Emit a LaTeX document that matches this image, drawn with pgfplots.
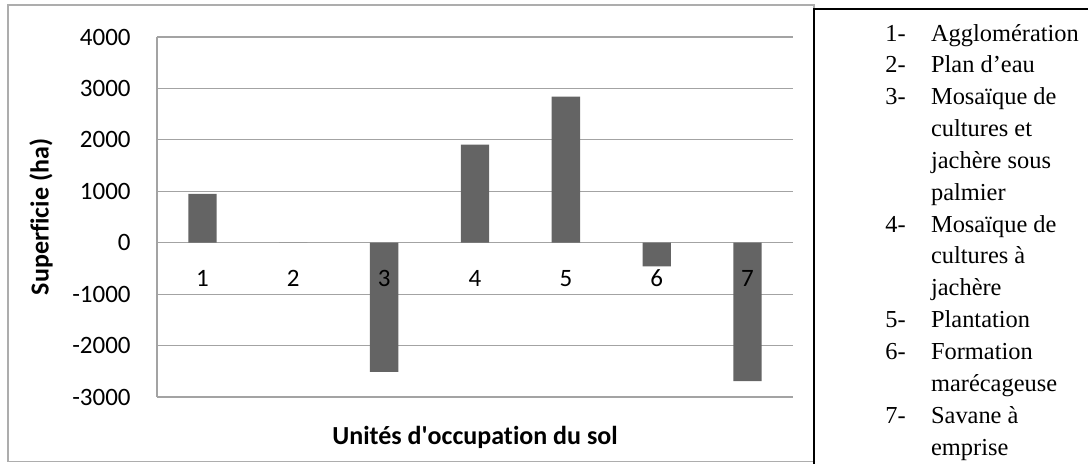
\documentclass[border=0pt]{standalone}
\usepackage{pgfplots}
\pgfplotsset{compat=1.18}
\usepackage{fontspec}
\setmainfont{Carlito}[Ligatures=NoCommon]
\newfontfamily\legfont{Liberation Serif}
\definecolor{bargray}{HTML}{646464}
\definecolor{gridgray}{HTML}{A3A3A3}
\definecolor{framegray}{HTML}{ADADAD}
\pgfplotsset{
  chartgeom/.style={
    at={(78.5pt,33pt)}, anchor=south west,
    scale only axis, width=318pt, height=180pt,
    xmin=0.5, xmax=7.5, ymin=-3000, ymax=4000,
    major tick length=0pt,
  },
}
\begin{document}
\begin{tikzpicture}[x=0.5pt,y=0.5pt]
\path[use as bounding box] (0,0) rectangle (1088,463);
\draw[framegray, line width=0.6pt] (8,458) rectangle (814,1.5);
\begin{axis}[
  chartgeom,
  xtick={1,2,3,4,5,6,7},
  xticklabels={},
  ytick={-3000,-2000,-1000,0,1000,2000,3000,4000},
  yticklabels={-3000,-2000,-1000,0,1000,2000,3000,4000},
  axis lines*=left,
  axis line style={-, draw=gridgray, line width=0.6pt},
  ymajorgrids,
  grid style={draw=gridgray, line width=0.6pt},
  tick label style={font=\fontsize{12.5pt}{15pt}\selectfont},
  yticklabel style={anchor=east, inner sep=0pt, xshift=-13pt},
  xlabel={Unités d\textquotesingle occupation du sol},
  ylabel={Superficie (ha)},
  label style={font=\fontsize{13pt}{15pt}\selectfont\bfseries},
  xlabel style={at={(axis description cs:0.5,-0.1333)}, anchor=base},
  ylabel style={at={(axis description cs:-0.1824,0.5)}, anchor=center},
  ybar, bar width=14.15pt,
]
\addplot[fill=bargray, draw=none] coordinates {
  (1,950) (2,0) (3,-2510) (4,1905) (5,2840) (6,-460) (7,-2690)
};
\end{axis}
\begin{axis}[
  chartgeom,
  axis line style={draw=none},
  xtick={1,2,3,4,5,6,7},
  xticklabels={1,2,3,4,5,6,7},
  ytick=\empty,
  tick label style={font=\fontsize{12.5pt}{15pt}\selectfont},
  xticklabel style={anchor=center, yshift=59.25pt},
]
\addplot[draw=none, forget plot] coordinates {(1,0) (7,0)};
\end{axis}
\draw[black, line width=0.7pt] (814,-10) -- (814,454) -- (1100,454);
\begin{scope}[every node/.style={anchor=base west, inner sep=0pt, font=\legfont\fontsize{12.2pt}{15pt}\selectfont}]
\node at (885,422) {1-}; \node at (930.7,422) {Agglomération};
\node at (885,390.15) {2-}; \node at (930.7,390.15) {Plan d’eau};
\node at (885,358.3) {3-}; \node at (930.7,358.3) {Mosaïque de};
\node at (930.7,326.45) {cultures et};
\node at (930.7,294.6) {jachère sous};
\node at (930.7,262.75) {palmier};
\node at (885,230.9) {4-}; \node at (930.7,230.9) {Mosaïque de};
\node at (930.7,199.05) {cultures à};
\node at (930.7,167.2) {jachère};
\node at (885,135.35) {5-}; \node at (930.7,135.35) {Plantation};
\node at (885,103.5) {6-}; \node at (930.7,103.5) {Formation};
\node at (930.7,71.65) {marécageuse};
\node at (885,39.8) {7-}; \node at (930.7,39.8) {Savane à};
\node at (930.7,7.95) {emprise};
\end{scope}
\end{tikzpicture}
\end{document}
